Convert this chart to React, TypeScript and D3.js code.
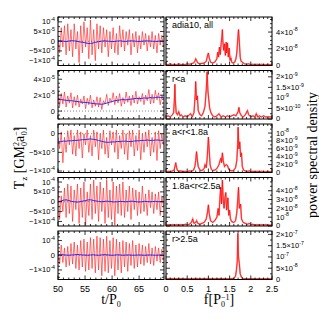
import React from "react";
import * as d3 from "d3";

// time sampling of the torque series (t / P0)
const T_START = 50;
const T_END = 69.6;
const DT_RED = 0.3;
const DT_BLUE = 0.5;

// T_z in units of 1e-5 G M0^2 a0^-1
const allRed = [2, -6, 7, -3, 8, -7, 9, -5, 6, -8, 9, -4, 5, -11, 8, -6, 10, -3, 7, -9, 11, -7, 6, -10, 9, -4, 8, -6, 7, -3, 6, -8, 5, -4, 7, -6, 4, -7, 8, -3, 6, -5, 5, -2, 6, -7, 4, -3, 5, -6, 3, -4, 5, -2, 4, -5, 3, -3, 5, -4, 3, -6, 4, -2, 3, -3];
const allBlue = [0.3, 0.2, 0, -0.2, 0.1, 0.3, 0.2, 0, -0.3, -0.5, -0.8, -1.1, -1.2, -0.9, -0.5, -0.2, 0, 0.2, 0.1, 0, -0.2, -0.1, 0.1, 0.2, 0, -0.1, 0.1, 0.2, 0.1, 0, -0.1, 0, 0.1, 0.2, 0.1, 0, -0.1, 0, 0.1, 0];
const inRed = [2.6, 0.6, 2.2, 0.9, 2.4, 0.5, 1.9, 1.0, 2.3, 0.4, 1.8, 0.7, 2.0, 0.5, 1.5, 0.9, 1.9, 0.3, 1.6, 0.8, 2.0, 0.4, 1.4, 0.6, 1.8, 0.5, 1.7, 0.2, 1.3, 0.9, 2.1, 0.7, 1.6, 1.1, 2.3, 0.8, 1.9, 1.0, 2.2, 0.6, 1.7, 0.9, 2.4, 1.1, 1.9, 0.7, 2.0, 1.0, 2.5, 0.9, 1.8, 1.2, 2.2, 0.8, 2.0, 1.3, 2.7, 0.9, 2.1, 1.0, 2.6, 1.4, 2.3, 0.8, 2.0, 1.6];
const inBlue = [1.5, 1.45, 1.4, 1.35, 1.3, 1.3, 1.25, 1.2, 1.15, 1.1, 1.1, 1.05, 1.0, 0.95, 0.9, 0.9, 0.85, 0.9, 1.0, 1.1, 1.2, 1.3, 1.35, 1.4, 1.45, 1.4, 1.45, 1.5, 1.55, 1.6, 1.55, 1.6, 1.65, 1.6, 1.7, 1.65, 1.7, 1.75, 1.7, 1.7];
const midRed = [-1, -4, 0.5, -7.8, -1, -5, 0.8, -3, 1, -5.5, -0.5, -6, 1, -4, 0.5, -6.5, 0, -3, 1, -5, -0.5, -6, 1, -3.5, 0.5, -7, 0, -4, 1, -5.5, -1, -6.5, 0.8, -3, 0.5, -5, 1, -6.8, -0.5, -4, 1, -5.5, 0, -7, 0.8, -3.5, 1, -6, -0.5, -4.5, 1, -7, 0, -5, 0.5, -3.5, 1, -6, -1, -5, 0.5, -7.2, 0.8, -4, 0, -3];
const midBlue = [-2.2, -2.1, -2.0, -2.0, -1.9, -1.9, -1.8, -1.8, -1.7, -1.6, -1.6, -1.5, -1.4, -1.5, -1.6, -1.8, -2.0, -2.2, -2.3, -2.3, -2.2, -2.2, -2.1, -2.1, -2.0, -2.0, -2.1, -2.1, -2.0, -1.9, -1.9, -1.8, -1.8, -1.7, -1.8, -1.8, -1.7, -1.7, -1.8, -1.8];
const outRed = [10, -9, 3, -5, 7, -8, 9, -6, 8, -10, 6, -4, 9, -11, 7, -8, 10, -12, 5, -7, 9, -9, 11, -6, 8, -10, 10, -5, 7, -11, 11, -8, 6, -9, 10, -12, 8, -6, 9, -7, 10, -8, 6, -5, 8, -9, 7, -4, 6, -7, 5, -6, 8, -5, 4, -7, 6, -3, 5, -6, 4, -4, 5, -7, 3, -2];
const outBlue = [0, 0.3, 0.8, 1.0, 0.6, 0.2, 0, -0.2, 0, 0.3, 0.5, 0.9, 1.0, 0.7, 0.4, 0.2, 0, 0.1, 0.3, 0.2, 0, -0.1, 0, 0.2, 0.1, 0, 0.1, 0.3, 0.2, 0, -0.1, 0, 0.2, 0.1, 0, 0.1, 0.2, 0, 0.1, 0];
const farRed = [4, -6, 7, -5, 5, -8, 6, -7, 8, -6, 9, -9, 7, -10, 10, -8, 11, -11, 9, -10, 12, -9, 11, -12, 13, -10, 12, -14, 11, -11, 13, -12, 10, -9, 12, -14, 11, -10, 9, -12, 10, -8, 9, -11, 8, -7, 10, -9, 7, -8, 8, -6, 7, -7, 6, -5, 8, -6, 5, -7, 6, -4, 5, -5, 4, -3];
const farBlue = [0.2, 0.4, 0.3, 0.1, 0, 0.2, 0.3, 0.5, 0.4, 0.2, 0.1, 0, 0.2, 0.3, 0.1, 0, 0.2, 0.4, 0.3, 0.1, 0, 0.1, 0.3, 0.2, 0, 0.1, 0.2, 0.1, 0, 0.1, 0.2, 0.1, 0, 0.1, 0.2, 0.1, 0, 0.1, 0.1, 0];

// power spectral density, [f (1/P0), value]; units per panel: 1e-8, 1e-9, 1e-9, 1e-8, 1e-8
const allPsd: [number, number][] = [[0, 0.15], [0.05, 0.1], [0.1, 0.2], [0.15, 0.1], [0.2, 0.15], [0.25, 0.1], [0.3, 0.2], [0.35, 0.1], [0.4, 0.15], [0.45, 0.1], [0.5, 0.2], [0.55, 0.15], [0.6, 0.2], [0.65, 0.3], [0.68, 0.5], [0.7, 0.8], [0.72, 0.6], [0.75, 0.3], [0.8, 0.2], [0.85, 0.25], [0.9, 0.3], [0.95, 0.5], [0.98, 1.2], [1.0, 1.5], [1.02, 0.9], [1.05, 0.4], [1.1, 0.3], [1.15, 0.4], [1.2, 0.8], [1.22, 1.6], [1.24, 1.0], [1.26, 2.2], [1.28, 1.3], [1.3, 2.6], [1.32, 3.5], [1.33, 4.3], [1.34, 3.0], [1.36, 1.8], [1.38, 2.6], [1.4, 1.2], [1.42, 2.8], [1.43, 1.5], [1.45, 2.7], [1.47, 1.0], [1.49, 2.1], [1.51, 0.6], [1.53, 0.9], [1.55, 0.4], [1.58, 0.3], [1.62, 0.4], [1.65, 0.8], [1.67, 1.5], [1.69, 3.0], [1.71, 4.3], [1.73, 2.8], [1.75, 1.0], [1.77, 0.5], [1.8, 0.4], [1.85, 0.2], [1.9, 0.15], [1.95, 0.2], [2.0, 0.1], [2.05, 0.15], [2.1, 0.1], [2.15, 0.15], [2.2, 0.1], [2.25, 0.15], [2.3, 0.1], [2.35, 0.1], [2.4, 0.15], [2.45, 0.1], [2.5, 0.1]];
const inPsd: [number, number][] = [[0, 0.1], [0.05, 0.15], [0.1, 0.1], [0.15, 0.2], [0.18, 0.3], [0.2, 1.0], [0.21, 1.65], [0.22, 0.9], [0.24, 0.3], [0.27, 0.2], [0.3, 0.35], [0.33, 0.15], [0.36, 0.2], [0.4, 0.1], [0.45, 0.15], [0.5, 0.1], [0.55, 0.2], [0.58, 0.25], [0.62, 0.1], [0.66, 0.3], [0.69, 1.2], [0.7, 1.78], [0.72, 0.9], [0.74, 1.1], [0.76, 0.4], [0.8, 0.2], [0.84, 0.15], [0.88, 0.3], [0.92, 0.6], [0.95, 1.4], [0.97, 2.25], [0.99, 1.3], [1.01, 0.9], [1.03, 0.5], [1.06, 0.3], [1.1, 0.15], [1.15, 0.1], [1.2, 0.15], [1.25, 0.25], [1.3, 0.1], [1.35, 0.15], [1.4, 0.1], [1.45, 0.15], [1.5, 0.1], [1.55, 0.15], [1.6, 0.2], [1.65, 0.15], [1.7, 0.35], [1.72, 0.55], [1.74, 0.3], [1.78, 0.15], [1.82, 0.1], [1.87, 0.2], [1.92, 0.4], [1.95, 0.2], [2.0, 0.1], [2.05, 0.15], [2.1, 0.1], [2.13, 0.25], [2.16, 0.1], [2.2, 0.15], [2.25, 0.1], [2.3, 0.15], [2.35, 0.1], [2.4, 0.1], [2.45, 0.1], [2.5, 0.1]];
const midPsd: [number, number][] = [[0, 0.2], [0.05, 0.3], [0.1, 0.2], [0.15, 0.4], [0.19, 0.6], [0.21, 1.5], [0.23, 2.5], [0.25, 1.2], [0.27, 0.5], [0.3, 0.3], [0.35, 0.4], [0.4, 0.2], [0.45, 0.3], [0.5, 0.2], [0.55, 0.4], [0.6, 0.3], [0.65, 0.6], [0.68, 1.5], [0.7, 3.0], [0.72, 5.3], [0.74, 3.2], [0.76, 1.5], [0.8, 0.6], [0.85, 0.5], [0.9, 1.0], [0.92, 2.0], [0.95, 1.2], [0.97, 3.5], [0.99, 7.0], [1.0, 9.0], [1.02, 5.5], [1.04, 2.0], [1.07, 0.8], [1.1, 0.5], [1.15, 0.6], [1.2, 1.0], [1.25, 2.0], [1.28, 3.2], [1.3, 3.7], [1.31, 2.5], [1.33, 5.0], [1.35, 3.0], [1.38, 1.5], [1.42, 2.0], [1.45, 1.8], [1.48, 0.8], [1.52, 0.5], [1.56, 0.4], [1.6, 0.6], [1.64, 1.2], [1.67, 3.0], [1.69, 7.0], [1.7, 11.5], [1.72, 6.0], [1.74, 7.8], [1.76, 4.0], [1.78, 5.0], [1.8, 1.5], [1.83, 0.6], [1.87, 0.4], [1.92, 0.3], [1.97, 0.4], [2.0, 0.2], [2.05, 0.3], [2.1, 0.2], [2.15, 0.3], [2.2, 0.2], [2.25, 0.3], [2.3, 0.2], [2.35, 0.2], [2.4, 0.3], [2.45, 0.2], [2.5, 0.2]];
const outPsd: [number, number][] = [[0, 0.1], [0.05, 0.15], [0.1, 0.1], [0.15, 0.15], [0.2, 0.1], [0.25, 0.15], [0.3, 0.1], [0.35, 0.15], [0.4, 0.1], [0.45, 0.2], [0.5, 0.15], [0.55, 0.2], [0.6, 0.4], [0.63, 0.8], [0.66, 0.3], [0.7, 0.4], [0.72, 0.6], [0.75, 0.3], [0.8, 0.2], [0.85, 0.3], [0.9, 0.4], [0.95, 0.8], [0.98, 1.6], [1.0, 2.4], [1.02, 1.4], [1.05, 0.6], [1.1, 0.4], [1.15, 0.6], [1.2, 1.0], [1.23, 2.0], [1.25, 1.2], [1.27, 3.0], [1.29, 4.4], [1.31, 2.5], [1.33, 5.2], [1.35, 3.0], [1.37, 2.0], [1.39, 3.2], [1.41, 3.8], [1.43, 1.8], [1.46, 3.2], [1.48, 1.2], [1.5, 1.8], [1.52, 0.8], [1.55, 0.5], [1.6, 0.4], [1.64, 0.6], [1.67, 1.5], [1.69, 2.8], [1.71, 4.4], [1.73, 2.0], [1.76, 2.5], [1.78, 0.8], [1.82, 0.4], [1.87, 0.3], [1.92, 0.2], [1.97, 0.3], [2.0, 0.15], [2.05, 0.2], [2.1, 0.1], [2.15, 0.15], [2.2, 0.1], [2.25, 0.15], [2.3, 0.1], [2.35, 0.15], [2.4, 0.1], [2.45, 0.1], [2.5, 0.1]];
const farPsd: [number, number][] = [[0, 0.3], [0.1, 0.4], [0.2, 0.3], [0.3, 0.4], [0.4, 0.3], [0.5, 0.35], [0.6, 0.3], [0.7, 0.4], [0.8, 0.3], [0.9, 0.35], [1.0, 0.4], [1.1, 0.3], [1.2, 0.35], [1.3, 0.4], [1.4, 0.3], [1.5, 0.35], [1.6, 0.5], [1.64, 1.5], [1.66, 4.0], [1.68, 8.0], [1.695, 20.5], [1.71, 10.0], [1.73, 7.0], [1.75, 2.5], [1.78, 1.0], [1.82, 0.4], [1.9, 0.3], [2.0, 0.35], [2.1, 0.3], [2.2, 0.3], [2.3, 0.35], [2.4, 0.3], [2.5, 0.3]];

// tick marks: [value, mantissa, exponent]
type Tick = [number, string, string];
const allTicks: Tick[] = [[10, "10", "-4"], [5, "5×10", "-5"], [0, "0", ""], [-5, "−5×10", "-5"], [-10, "−1×10", "-4"]];
const inTicks: Tick[] = [[4, "4×10", "-5"], [2, "2×10", "-5"], [0, "0", ""]];
const midTicks: Tick[] = [[0, "0", ""], [-5, "−5×10", "-5"], [-10, "−1×10", "-4"]];
const outTicks: Tick[] = [[10, "10", "-4"], [5, "5×10", "-5"], [0, "0", ""], [-5, "−5×10", "-5"], [-10, "−1×10", "-4"]];
const farTicks: Tick[] = [[10, "10", "-4"], [0, "0", ""], [-10, "−1×10", "-4"]];
const allPsdTicks: Tick[] = [[4, "4×10", "-8"], [2, "2×10", "-8"], [0, "0", ""]];
const inPsdTicks: Tick[] = [[2, "2×10", "-9"], [1.5, "1.5×10", "-9"], [1, "10", "-9"], [0.5, "5×10", "-10"], [0, "0", ""]];
const midPsdTicks: Tick[] = [[10, "10", "-8"], [8, "8×10", "-9"], [6, "6×10", "-9"], [4, "4×10", "-9"], [2, "2×10", "-9"], [0, "0", ""]];
const outPsdTicks: Tick[] = [[4, "4×10", "-8"], [3, "3×10", "-8"], [2, "2×10", "-8"], [1, "10", "-8"], [0, "0", ""]];
const farPsdTicks: Tick[] = [[20, "2×10", "-7"], [15, "1.5×10", "-7"], [10, "10", "-7"], [5, "5×10", "-8"], [0, "0", ""]];

const timeTicks = [50, 55, 60, 65];
const freqTicks = [0, 0.5, 1, 1.5, 2, 2.5];
const freqTickLabels = ["0", "0.5", "1", "1.5", "2", "2.5"];

const labels = ["adia10, all", "r<a", "a<r<1.8a", "1.8a<r<2.5a", "r>2.5a"];

const rows = [
  { red: allRed, blue: allBlue, yDom: [-12.5, 12.5], ticks: allTicks, minor: 2.5, psd: allPsd, pDom: [0, 5.8], pTicks: allPsdTicks, pMinor: 0.5 },
  { red: inRed, blue: inBlue, yDom: [-1.0, 5.1], ticks: inTicks, minor: 0.5, psd: inPsd, pDom: [0, 2.3], pTicks: inPsdTicks, pMinor: 0.25 },
  { red: midRed, blue: midBlue, yDom: [-10.4, 2.6], ticks: midTicks, minor: 2.5, psd: midPsd, pDom: [0, 12.3], pTicks: midPsdTicks, pMinor: 1 },
  { red: outRed, blue: outBlue, yDom: [-12.3, 12.3], ticks: outTicks, minor: 2.5, psd: outPsd, pDom: [0, 5.5], pTicks: outPsdTicks, pMinor: 0.5 },
  { red: farRed, blue: farBlue, yDom: [-16.5, 16.5], ticks: farTicks, minor: 2.5, psd: farPsd, pDom: [0, 21.5], pTicks: farPsdTicks, pMinor: 2.5 },
];

const LX0 = 58, LX1 = 164, RX0 = 166, RX1 = 272;
const TOP = 17, PITCH = 53.5, ROW_H = 48.5;
const FONT = "'Liberation Sans', Arial, sans-serif";
const SERIF = "'Liberation Serif', 'Times New Roman', serif";

const steps = (lo: number, hi: number, step: number) => {
  const out: number[] = [];
  const start = Math.ceil(lo / step - 1e-9) * step;
  for (let v = start; v <= hi + 1e-9; v += step) out.push(+v.toFixed(6));
  return out;
};

const TickText = ({ x, y, t, anchor }: { x: number; y: number; t: Tick; anchor: string }) => (
  <text x={x} y={y} dy="0.33em" textAnchor={anchor} fontSize={7.5} fontFamily={FONT}>
    <tspan>{t[1]}</tspan>
    {t[2] && <tspan dy={-3.2} fontSize={5.2}>{t[2]}</tspan>}
  </text>
);

const Frame = ({ x0, x1, y0, y1, xs, xMaj, xMin, ys, yMaj, yMin }: any) => {
  const marks: React.ReactNode[] = [];
  const xd = xs.domain();
  const yd = ys.domain();
  steps(xd[0], xd[1], xMin).forEach((v, i) => {
    const len = xMaj.some((m: number) => Math.abs(m - v) < 1e-6) ? 4 : 2;
    const px = xs(v);
    marks.push(<line key={"xb" + i} x1={px} x2={px} y1={y1} y2={y1 - len} stroke="#000" strokeWidth={0.8} />);
    marks.push(<line key={"xt" + i} x1={px} x2={px} y1={y0} y2={y0 + len} stroke="#000" strokeWidth={0.8} />);
  });
  steps(yd[0], yd[1], yMin).forEach((v, i) => {
    const len = yMaj.some((m: number) => Math.abs(m - v) < 1e-6) ? 4 : 2;
    const py = ys(v);
    marks.push(<line key={"yl" + i} x1={x0} x2={x0 + len} y1={py} y2={py} stroke="#000" strokeWidth={0.8} />);
    marks.push(<line key={"yr" + i} x1={x1} x2={x1 - len} y1={py} y2={py} stroke="#000" strokeWidth={0.8} />);
  });
  return (
    <g>
      {marks}
      <rect x={x0} y={y0} width={x1 - x0} height={y1 - y0} fill="none" stroke="#000" strokeWidth={1} />
    </g>
  );
};

const App = () => {
  const xT = d3.scaleLinear().domain([T_START, T_END]).range([LX0, LX1]);
  const xF = d3.scaleLinear().domain([0, 2.5]).range([RX0, RX1]);
  const axisY = TOP + 4 * PITCH + ROW_H + 12;

  return (
    <svg width={319} height={319} style={{ position: "absolute", left: 0, top: 0, background: "#fff" }}>
      <defs>
        {rows.map((r, i) => {
          const y0 = TOP + i * PITCH;
          return (
            <React.Fragment key={i}>
              <clipPath id={"cl" + i}><rect x={LX0} y={y0} width={LX1 - LX0} height={ROW_H} /></clipPath>
              <clipPath id={"cr" + i}><rect x={RX0} y={y0} width={RX1 - RX0} height={ROW_H} /></clipPath>
            </React.Fragment>
          );
        })}
      </defs>
      {rows.map((r, i) => {
        const y0 = TOP + i * PITCH;
        const y1 = y0 + ROW_H;
        const yL = d3.scaleLinear().domain(r.yDom).range([y1, y0]);
        const yR = d3.scaleLinear().domain(r.pDom).range([y1, y0]);
        const redLine = d3.line<number>().x((d, k) => xT(T_START + k * DT_RED)).y((d) => yL(d));
        const blueLine = d3.line<number>().x((d, k) => xT(T_START + k * DT_BLUE)).y((d) => yL(d));
        const psdLine = d3.line<[number, number]>().x((d) => xF(d[0])).y((d) => yR(d[1]));
        return (
          <g key={i}>
            <g clipPath={`url(#cl${i})`}>
              <line x1={LX0} x2={LX1} y1={yL(0)} y2={yL(0)} stroke="#555" strokeWidth={0.7} strokeDasharray="1,2" />
              <path d={redLine(r.red) || ""} fill="none" stroke="#ff2020" strokeOpacity={0.7} strokeWidth={0.9} />
              <path d={blueLine(r.blue) || ""} fill="none" stroke="#2828ff" strokeWidth={1} />
            </g>
            <g clipPath={`url(#cr${i})`}>
              <path d={psdLine(r.psd) || ""} fill="none" stroke="#ff8a8a" strokeWidth={1.6} />
              <path d={psdLine(r.psd) || ""} fill="none" stroke="#ff0000" strokeWidth={0.7} />
            </g>
            <Frame x0={LX0} x1={LX1} y0={y0} y1={y1} xs={xT} xMaj={timeTicks} xMin={1} ys={yL} yMaj={r.ticks.map((t) => t[0])} yMin={r.minor} />
            <Frame x0={RX0} x1={RX1} y0={y0} y1={y1} xs={xF} xMaj={freqTicks} xMin={0.1} ys={yR} yMaj={r.pTicks.map((t) => t[0])} yMin={r.pMinor} />
            {r.ticks.map((t, k) => <TickText key={"l" + k} x={LX0 - 3} y={yL(t[0])} t={t} anchor="end" />)}
            {r.pTicks.map((t, k) => <TickText key={"r" + k} x={RX1 + 4} y={yR(t[0])} t={t} anchor="start" />)}
            <text x={RX0 + 6} y={y0 + 11} fontSize={9} fontFamily={FONT}>{labels[i]}</text>
          </g>
        );
      })}
      {timeTicks.map((v, k) => (
        <text key={"tt" + k} x={xT(v)} y={axisY} textAnchor="middle" fontSize={9} fontFamily={FONT}>{v}</text>
      ))}
      {freqTicks.map((v, k) => (
        <text key={"ft" + k} x={xF(v)} y={axisY} textAnchor="middle" fontSize={9} fontFamily={FONT}>{freqTickLabels[k]}</text>
      ))}
      <text x={(LX0 + LX1) / 2} y={304} textAnchor="middle" fontSize={14} fontFamily={SERIF}>
        t/P<tspan dy={3} fontSize={8}>0</tspan>
      </text>
      <text x={(RX0 + RX1) / 2} y={304} textAnchor="middle" fontSize={14} fontFamily={SERIF}>
        f[P<tspan dy={3} fontSize={8}>0</tspan><tspan dy={-7} dx={-4} fontSize={8}>−1</tspan><tspan dy={4}>]</tspan>
      </text>
      <text transform="translate(24,158) rotate(-90)" textAnchor="middle" fontSize={14} fontFamily={SERIF}>
        T<tspan dy={3} fontSize={9}>z</tspan><tspan dy={-3}> [GM</tspan><tspan dy={-5} fontSize={8}>2</tspan><tspan dx={-4} dy={8} fontSize={8}>0</tspan><tspan dy={-3}>a</tspan><tspan dy={-5} fontSize={8}>−1</tspan><tspan dx={-8} dy={8} fontSize={8}>0</tspan><tspan dy={-3}>]</tspan>
      </text>
      <text transform="translate(317,155) rotate(-90)" textAnchor="middle" fontSize={14} fontFamily={SERIF}>power spectral density</text>
    </svg>
  );
};

export default App;
